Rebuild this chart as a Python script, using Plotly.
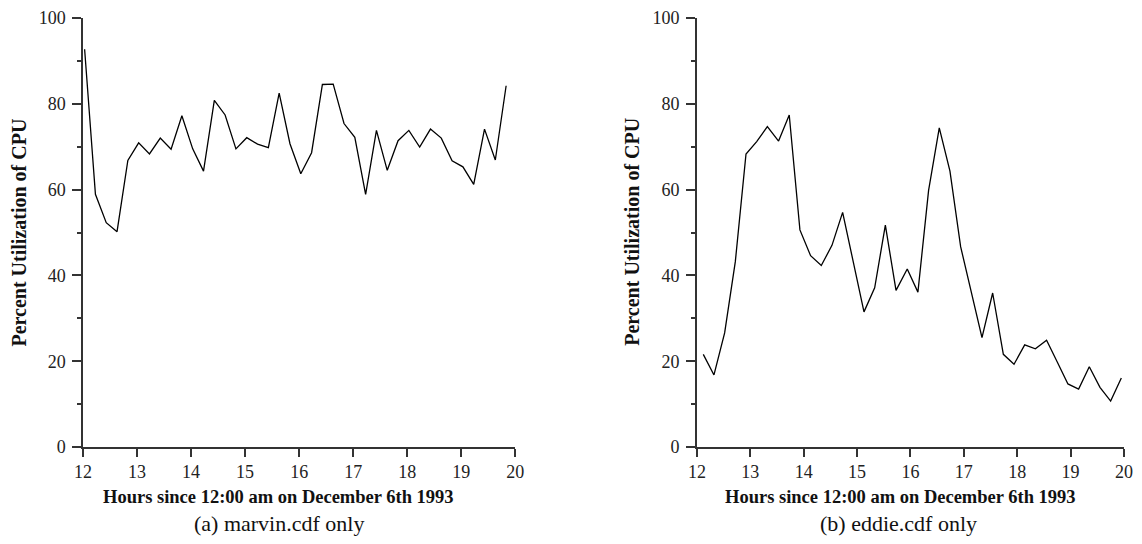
import plotly.graph_objects as go

# ---- data ----
marvin_hours = [12.03, 12.23, 12.43, 12.63, 12.83, 13.03, 13.23, 13.43, 13.63, 13.83,
                14.03, 14.23, 14.43, 14.63, 14.83, 15.03, 15.23, 15.43, 15.63, 15.83,
                16.03, 16.23, 16.43, 16.63, 16.83, 17.03, 17.23, 17.43, 17.63, 17.83,
                18.03, 18.23, 18.43, 18.63, 18.83, 19.03, 19.23, 19.43, 19.63, 19.83]
marvin_cpu = [92.7, 58.9, 52.3, 50.2, 66.8, 70.9, 68.3, 72.0, 69.4, 77.2,
              69.5, 64.3, 80.8, 77.4, 69.5, 72.1, 70.6, 69.8, 82.5, 70.7,
              63.7, 68.6, 84.5, 84.6, 75.4, 72.2, 58.9, 73.8, 64.5, 71.4,
              73.8, 69.9, 74.1, 72.0, 66.7, 65.3, 61.2, 74.1, 66.9, 84.2]

eddie_hours = [12.12, 12.32, 12.52, 12.72, 12.92, 13.12, 13.32, 13.53, 13.73, 13.93,
               14.13, 14.33, 14.53, 14.73, 14.93, 15.13, 15.33, 15.53, 15.73, 15.94,
               16.14, 16.34, 16.54, 16.74, 16.94, 17.14, 17.34, 17.54, 17.74, 17.94,
               18.14, 18.34, 18.55, 18.75, 18.95, 19.15, 19.35, 19.55, 19.75, 19.95]
eddie_cpu = [21.6, 16.8, 26.6, 43.2, 68.3, 71.2, 74.7, 71.3, 77.4, 50.6,
             44.6, 42.3, 47.0, 54.7, 43.1, 31.5, 37.1, 51.7, 36.5, 41.5,
             36.1, 59.8, 74.4, 64.3, 46.7, 36.1, 25.5, 35.9, 21.6, 19.3,
             23.8, 22.9, 24.9, 19.8, 14.7, 13.5, 18.7, 13.9, 10.7, 16.1]

x_ticks = [12, 13, 14, 15, 16, 17, 18, 19, 20]
y_ticks = [0, 20, 40, 60, 80, 100]

x_title = "Hours since 12:00 am on December 6th 1993"
y_title = "Percent Utilization of CPU"
captions = ["(a) marvin.cdf only", "(b) eddie.cdf only"]

FONT = "Liberation Serif"
AX = "#333333"

fig = go.Figure()
fig.add_trace(go.Scatter(x=marvin_hours, y=marvin_cpu, mode="lines",
                         line=dict(color="black", width=1.3),
                         xaxis="x", yaxis="y", showlegend=False))
fig.add_trace(go.Scatter(x=eddie_hours, y=eddie_cpu, mode="lines",
                         line=dict(color="black", width=1.3),
                         xaxis="x2", yaxis="y2", showlegend=False))

xcommon = dict(range=[12, 20], tickvals=x_ticks, ticks="outside", ticklen=8,
               tickwidth=1.5, tickcolor=AX, showline=True, linecolor=AX, linewidth=1.5,
               showgrid=False, zeroline=False, automargin=False, ticklabeloverflow="allow",
               tickfont=dict(family=FONT, size=18, color="#222"))
ycommon = dict(range=[0, 100], tickvals=y_ticks, ticks="outside", ticklen=9,
               tickwidth=1.5, tickcolor=AX, showline=True, linecolor=AX, linewidth=1.5,
               showgrid=False, zeroline=False, automargin=False, ticklabeloverflow="allow",
               ticklabelstandoff=3,
               tickfont=dict(family=FONT, size=18, color="#222"),
               minor=dict(dtick=10, tick0=0, ticks="outside", ticklen=4, tickcolor=AX, tickwidth=1.5,
                          showgrid=False))

# page body has an 8px margin; work in reference-window pixels and shift
OFF = 8
W, H = 1134, 528
left_px, right_px, top_px, bottom_px = 83.3, 1124.5, 18.0, 446.7
ml = left_px - OFF
mr = W - (right_px - OFF)
mt = top_px - OFF
mb = H - (bottom_px - OFF)
pw = W - ml - mr
ph = H - mt - mb

def px_x(p):
    return (p - OFF - ml) / pw

def px_y(p):
    return (H - mb - (p - OFF)) / ph

fig.update_layout(
    width=W, height=H,
    margin=dict(l=ml, r=mr, t=mt, b=mb, autoexpand=False),
    paper_bgcolor="white", plot_bgcolor="white",
    xaxis=dict(domain=[0, px_x(515.7)], anchor="y", **xcommon),
    yaxis=dict(domain=[0, 1], anchor="x", **ycommon),
    xaxis2=dict(domain=[px_x(697.3), 1], anchor="y2", **xcommon),
    yaxis2=dict(domain=[0, 1], anchor="x2", **ycommon),
)

ann = []
for cx_t, cx_y in [(279.2, 19.7), (900.8, 633.0)]:
    ann.append(dict(text="<b>%s</b>" % x_title, x=px_x(cx_t), y=px_y(497), xref="paper", yref="paper",
                    xanchor="center", yanchor="middle", showarrow=False,
                    font=dict(family=FONT, size=18.5, color="#111")))
    ann.append(dict(text="<b>%s</b>" % y_title, x=px_x(cx_y), y=px_y(232), xref="paper", yref="paper",
                    xanchor="center", yanchor="middle", showarrow=False, textangle=-90,
                    font=dict(family=FONT, size=20, color="#111")))
ann.append(dict(text=captions[0], x=px_x(279.5), y=px_y(523.3), xref="paper", yref="paper",
                xanchor="center", yanchor="middle", showarrow=False,
                font=dict(family=FONT, size=22, color="#111")))
ann.append(dict(text=captions[1], x=px_x(899.0), y=px_y(523.3), xref="paper", yref="paper",
                xanchor="center", yanchor="middle", showarrow=False,
                font=dict(family=FONT, size=22, color="#111")))
fig.update_layout(annotations=ann)

fig.write_html("out.html")
